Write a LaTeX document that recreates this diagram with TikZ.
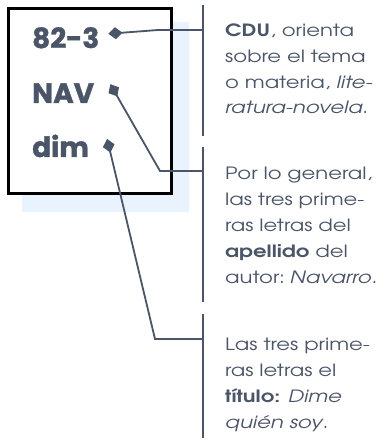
\documentclass[tikz,border=0pt]{standalone}
\usepackage{fontspec}
\setmainfont{texgyreadventor}[Extension=.otf, UprightFont=*-regular,
  BoldFont=*-bold, ItalicFont=*-italic, BoldItalicFont=*-bolditalic,
  FakeStretch=1.25]
\newfontfamily\codefont{Poppins}[BoldFeatures={FakeBold=1.2}]
\usetikzlibrary{arrows.meta,positioning,calc}
\definecolor{signInk}{HTML}{4A5568}
\definecolor{signShade}{HTML}{E8F3FE}
\tikzset{
  conn/.style={{Diamond[length=14bp,width=12bp]}-, draw=signInk, line width=1.8bp},
  bar/.style={draw=signInk, line width=2.5bp},
  code/.style={font=\codefont\fontsize{28}{28}\selectfont\bfseries, text=signInk,
               inner sep=0pt, anchor=base west},
  note/.style={font=\fontsize{17}{26}\selectfont, text=signInk,
               inner sep=0pt, anchor=base west, align=left}
}
\begin{document}
\begin{tikzpicture}[x=1bp,y=-1bp]
\useasboundingbox (0,0) rectangle (385,441);

% ------------------------------------------------------------
% LEFT: the call number card
% ------------------------------------------------------------
\fill[signShade] (22,22) rectangle (189,212);
\draw[line width=3bp, fill=white] (8.5,8.5) rectangle (171.5,193.5);

\node[code] (cdu) at (32,48) {82-3};
\node[code] (nav) at (32,103) {NAV};
\node[code] (dim) at (32,157) {dim};

% ------------------------------------------------------------
% RIGHT: explanations (base = last line)
% ------------------------------------------------------------
\node[note] (tcdu) at (225,114)
{\textbf{CDU}, orienta\\sobre el tema\\o materia, \textit{lite-}\\\textit{ratura-novela}.};
\node[note] (tnav) at (225,283)
{Por lo general,\\las tres prime-\\ras letras del\\\textbf{apellido} del\\autor: \kern-3pt\textit{Navarro}.};
\node[note] (tdim) at (225,428)
{Las tres prime-\\ras letras el\\\textbf{título:} \textit{Dime}\\\textit{quién soy}.};

% brackets
\draw[bar] (203,5) -- (203,136);
\draw[bar] (203,147) -- (203,302);
\draw[bar] (203,314) -- (203,438);
\coordinate (bar1) at (203,30);
\coordinate (bar2) at (203,171);
\coordinate (bar3) at (203,339);

% connectors
\coordinate (bend1) at (158,30);
\coordinate (bend2) at (160,171);
\coordinate (bend3) at (155,339);
\draw[conn] ($(cdu.east)+(9,-4)$) -- (bend1) -- (bar1);
\draw[conn] ($(nav.east)+(16,-9)$) -- (bend2) -- (bar2);
\draw[conn] ($(dim.east)+(18,-7)$) -- (bend3) -- (bar3);

\end{tikzpicture}
\end{document}
